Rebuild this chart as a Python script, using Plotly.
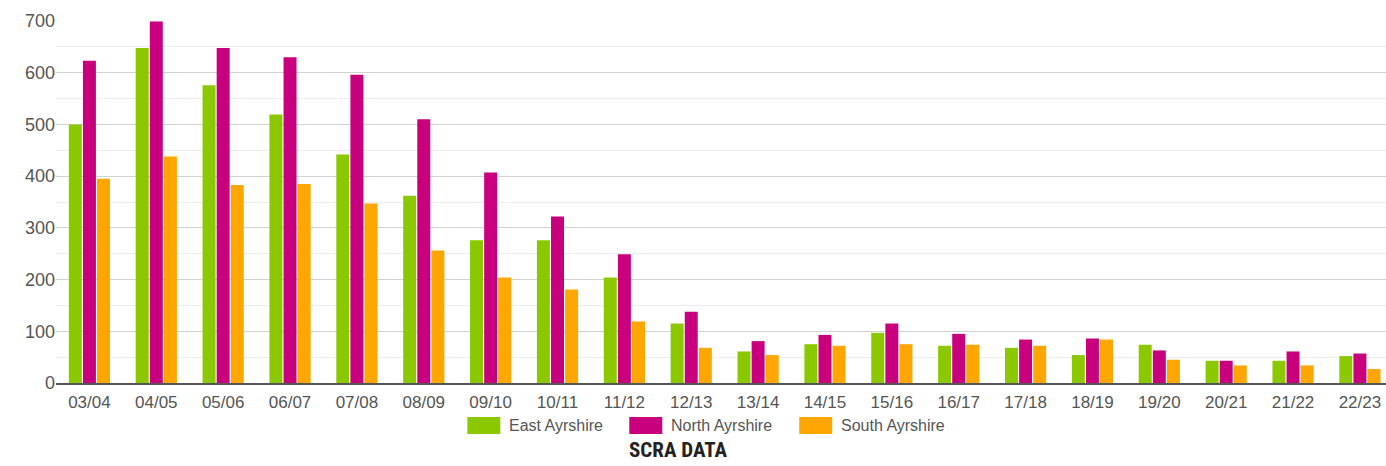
import plotly.graph_objects as go

# Financial years on the category axis
years = ["03/04", "04/05", "05/06", "06/07", "07/08", "08/09", "09/10", "10/11",
         "11/12", "12/13", "13/14", "14/15", "15/16", "16/17", "17/18", "18/19",
         "19/20", "20/21", "21/22", "22/23"]

# Referrals per council area
east_ayrshire = [500, 648, 576, 519, 442, 362, 276, 276, 204, 115, 61, 75, 97, 72, 68, 54, 74, 43, 43, 52]
north_ayrshire = [623, 699, 648, 630, 596, 510, 407, 322, 249, 138, 81, 93, 115, 95, 84, 86, 63, 43, 61, 57]
south_ayrshire = [395, 438, 383, 385, 347, 256, 204, 181, 119, 68, 54, 72, 75, 74, 72, 84, 45, 34, 34, 27]

series_names = ["East Ayrshire", "North Ayrshire", "South Ayrshire"]
series_colors = ["#8cc800", "#c8007d", "#ffa600"]
series_values = [east_ayrshire, north_ayrshire, south_ayrshire]

y_ticks = [0, 100, 200, 300, 400, 500, 600, 700]

W, H = 1386, 466
ML, MR, MT, MB = 55.5, 0, 21, 83
PW, PH = W - ML - MR, H - MT - MB

fig = go.Figure()
for name, color, vals in zip(series_names, series_colors, series_values):
    fig.add_trace(go.Bar(x=years, y=vals, name=name, marker_color=color,
                         marker_line_width=0, showlegend=False))

FONT = "Liberation Sans, Arial, sans-serif"

fig.update_layout(
    width=W, height=H,
    margin=dict(l=ML, r=MR, t=MT, b=MB),
    paper_bgcolor="white", plot_bgcolor="white",
    barmode="group", bargap=0.367, bargroupgap=0.08,
    font=dict(family=FONT, size=16, color="#555555"),
    xaxis=dict(
        type="category", range=[-0.5, 19.39],
        showgrid=False, showline=True, linecolor="#555555", linewidth=1.5,
        ticks="", tickfont=dict(size=17, color="#555555"),
        ticklabelstandoff=3,
    ),
    yaxis=dict(
        range=[0, 700], tickvals=y_ticks, showline=False, zeroline=False,
        gridcolor="#d2d2d2", gridwidth=1,
        minor=dict(dtick=50, tick0=0, showgrid=True, gridcolor="#ececec", gridwidth=1),
        ticks="", tickfont=dict(size=18, color="#555555"),
        ticklabelstandoff=0,
    ),
)

# Legend row drawn below the axis: coloured swatch followed by series name
def px_x(px):
    return (px - ML) / PW

def px_y(py):
    return (H - MB - py) / PH

swatch_left = [467, 629, 799]
for left, name, color in zip(swatch_left, series_names, series_colors):
    fig.add_shape(type="rect", xref="paper", yref="paper",
                  x0=px_x(left), x1=px_x(left + 33), y0=px_y(434), y1=px_y(417),
                  fillcolor=color, line_width=0)
    fig.add_annotation(xref="paper", yref="paper", x=px_x(left + 40), y=px_y(425.5),
                       xanchor="left", yanchor="middle", showarrow=False,
                       text=name, font=dict(family=FONT, size=16, color="#555555"))

fig.add_annotation(xref="paper", yref="paper", x=px_x(678), y=px_y(450),
                   xanchor="center", yanchor="middle", showarrow=False,
                   text="<b>SCRA DATA</b>",
                   font=dict(family="Roboto Condensed, Roboto, sans-serif", size=21, color="#222222"))

fig.write_html("out.html")
